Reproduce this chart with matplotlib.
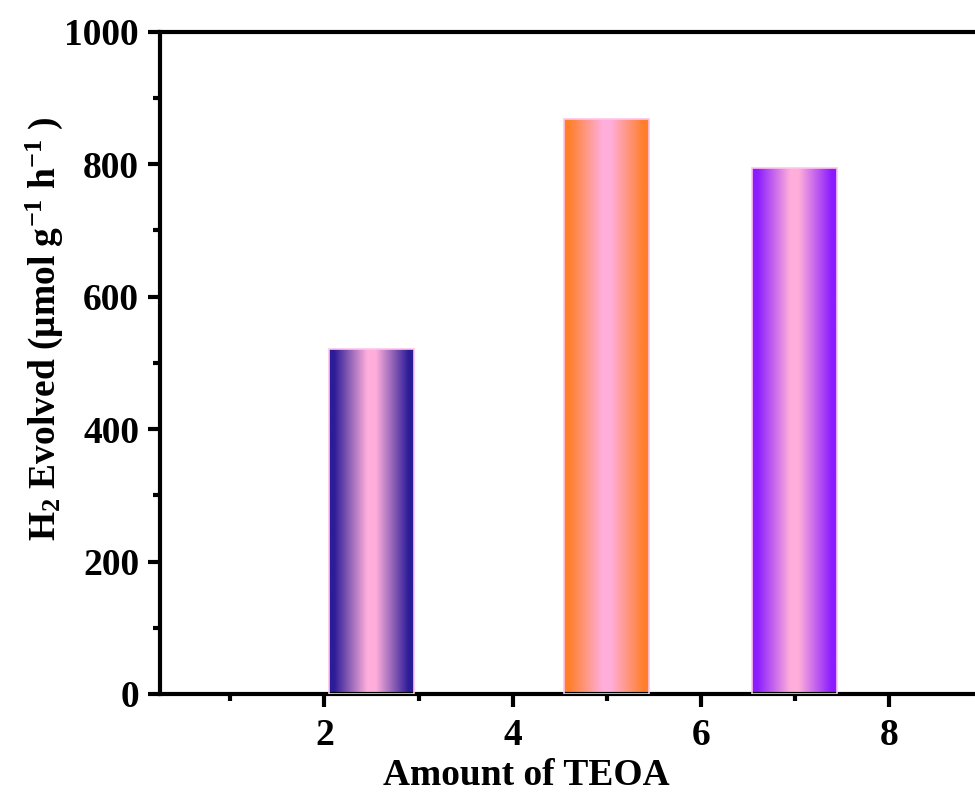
import numpy as np
import matplotlib
matplotlib.use("Agg")
import matplotlib.pyplot as plt
from matplotlib.colors import LinearSegmentedColormap

# data
teoa = [2.5, 5, 7]
h2_rate = [521, 868, 795]
edge_colors = ["#2c1c98", "#ff7f2a", "#8a1cff"]
mid_color = "#ffaedb"

plt.rcParams['font.family'] = 'Liberation Serif'
plt.rcParams['font.weight'] = 'bold'
plt.rcParams['mathtext.fontset'] = 'custom'
plt.rcParams['mathtext.rm'] = 'Liberation Serif:bold'
plt.rcParams['mathtext.it'] = 'Liberation Serif:bold'
plt.rcParams['mathtext.bf'] = 'Liberation Serif:bold'
plt.rcParams['mathtext.default'] = 'rm'

fig = plt.figure(figsize=(9.75, 7.94), dpi=100)
ax = fig.add_axes([0.164, 0.126, 1.008 - 0.164, 0.834])

grad = np.linspace(0, 1, 256).reshape(1, -1)
width = 0.9
for x, h, c in zip(teoa, h2_rate, edge_colors):
    bar = ax.bar(x, h, width, color='none', edgecolor='#ffc4ea', linewidth=1.2, zorder=3)[0]
    cmap = LinearSegmentedColormap.from_list(
        'g', [(0, c), (0.06, c), (0.45, mid_color), (0.55, mid_color), (0.94, c), (1, c)])
    im = ax.imshow(grad, cmap=cmap, aspect='auto', extent=[x - width / 2, x + width / 2, 0, h], zorder=2)
    im.set_clip_path(bar)

ax.set_xlim(0.25, 9.0)
ax.set_ylim(0, 1000)
ax.set_xticks([2, 4, 6, 8])
ax.set_xticks([1, 3, 5, 7], minor=True)
ax.set_yticks(range(0, 1001, 200))
ax.set_yticks(range(100, 1000, 200), minor=True)

for s in ['left', 'bottom', 'top']:
    ax.spines[s].set_linewidth(3)
ax.spines['right'].set_visible(False)
ax.tick_params(which='major', direction='out', length=9, width=3, labelsize=27, pad=6)
ax.tick_params(axis='x', which='major', pad=8)
ax.tick_params(which='minor', direction='out', length=5, width=3)
ax.tick_params(top=False, right=False)

ax.set_xlabel('Amount of TEOA', fontsize=27, fontweight='bold')
ax.xaxis.set_label_coords(0.445, -0.096)
ax.set_ylabel('H$_2$ Evolved (μmol g$^{-1}$ h$^{-1}$ )', fontsize=27, fontweight='bold')
ax.yaxis.set_label_coords(-0.115, 0.551)

fig.savefig('out.png', dpi=100)
